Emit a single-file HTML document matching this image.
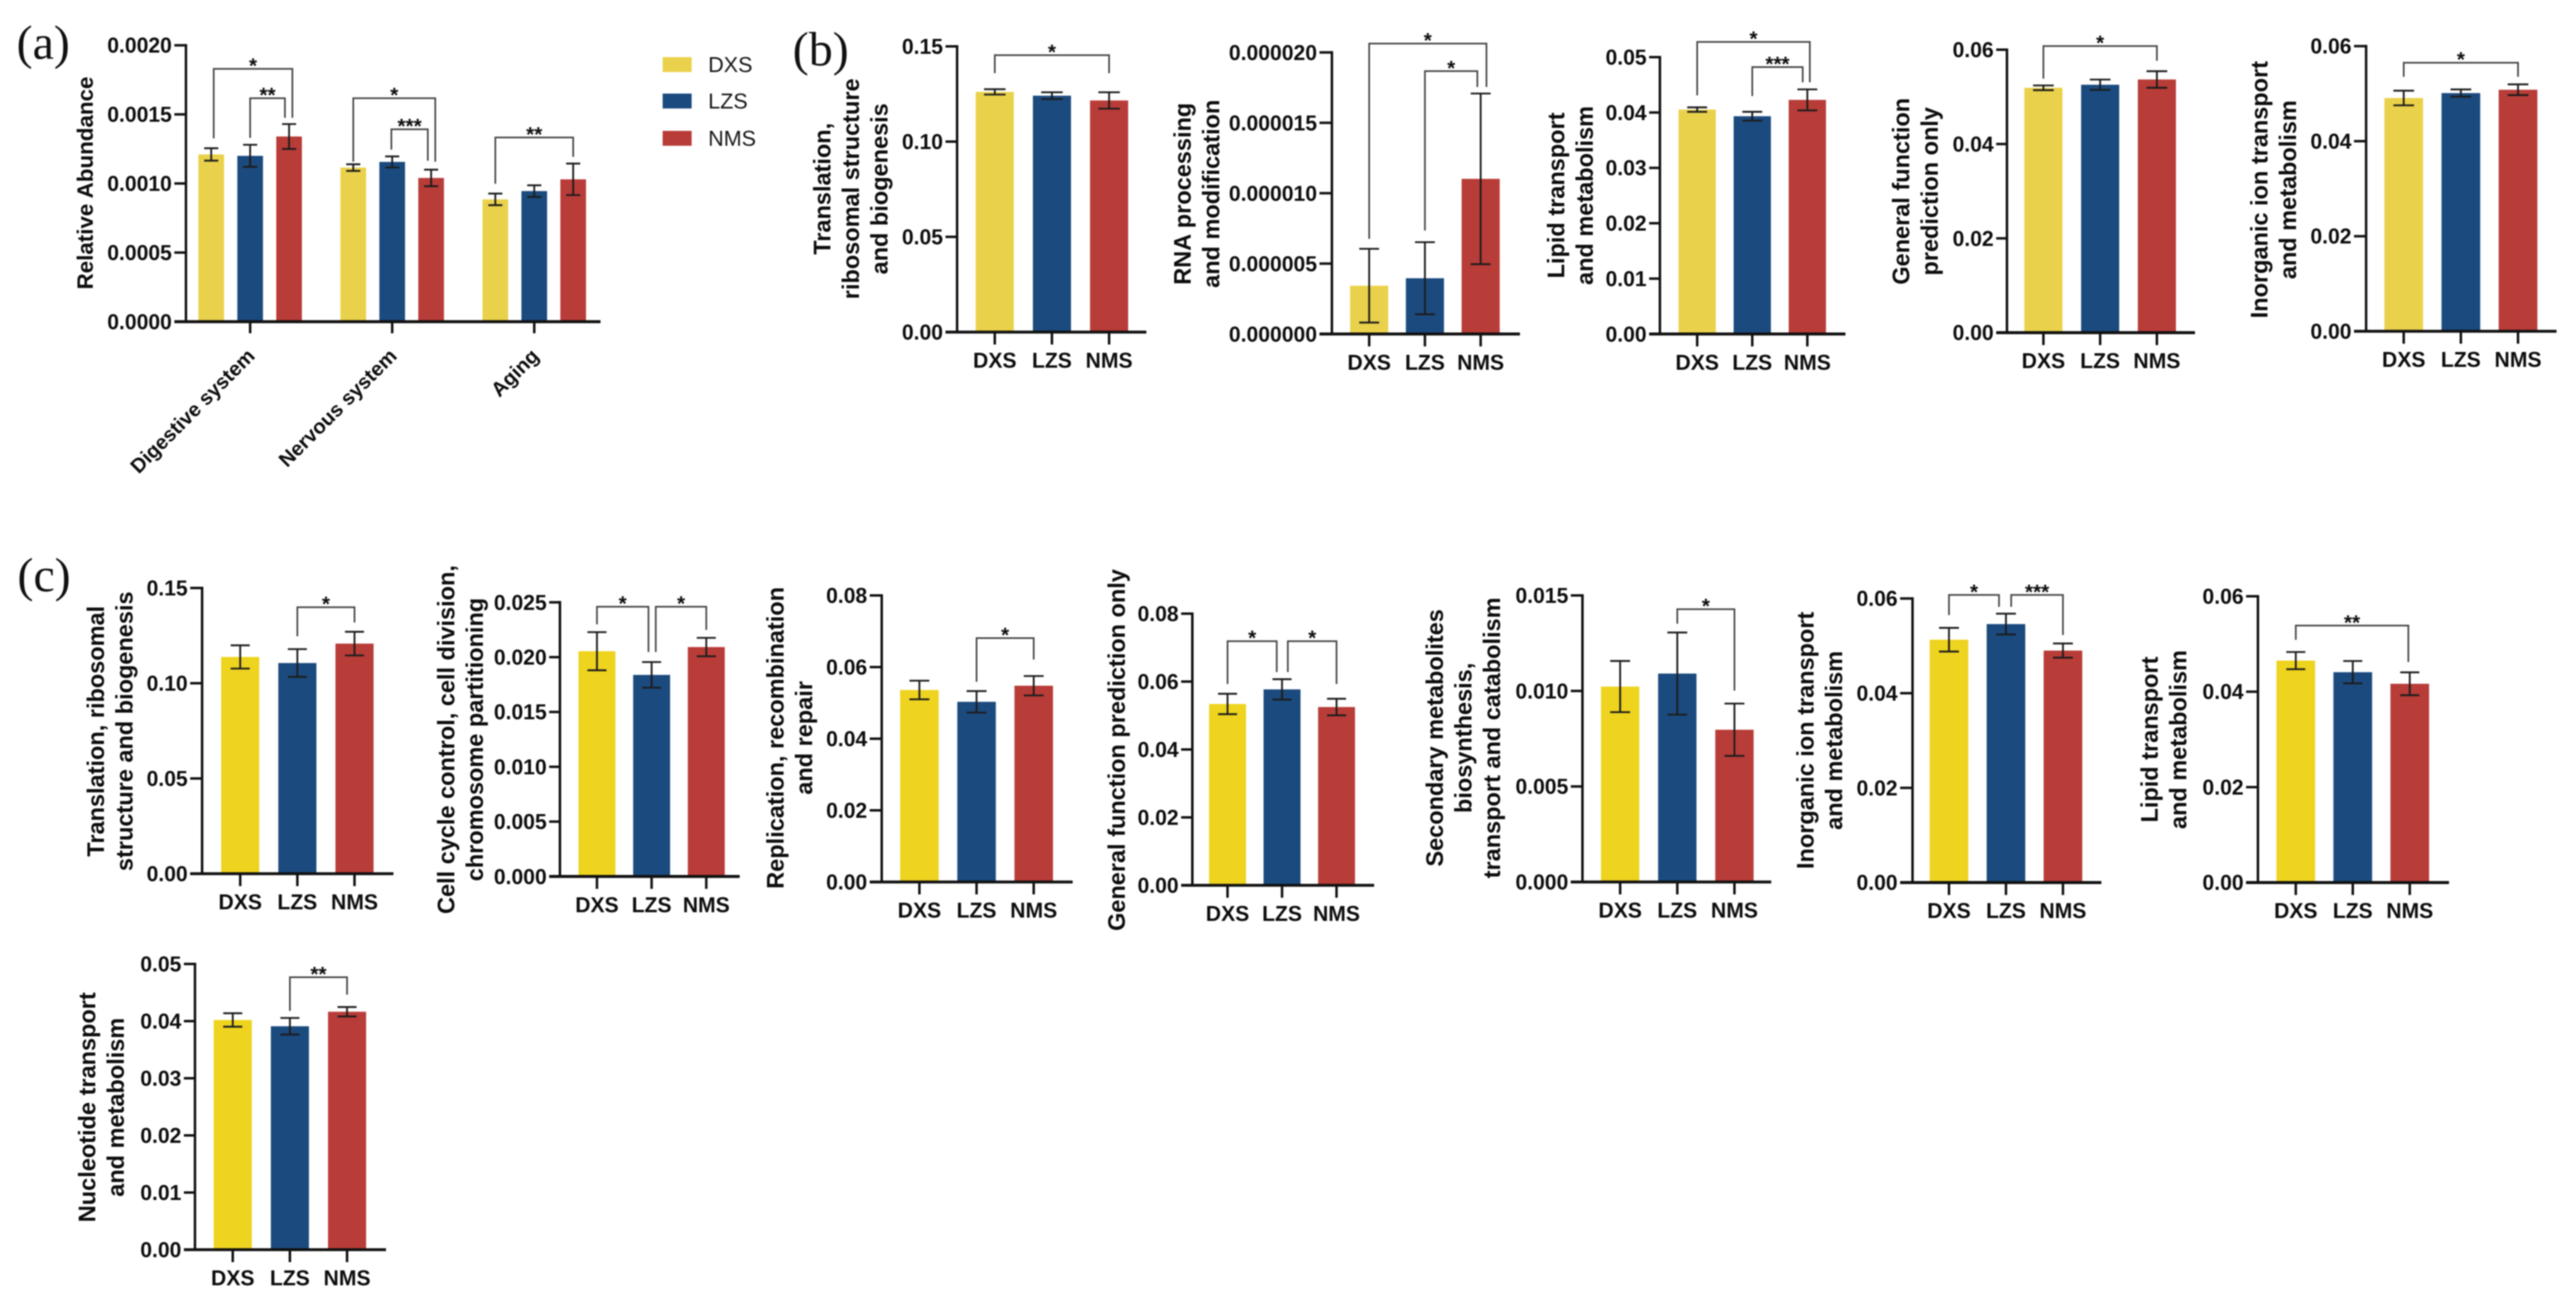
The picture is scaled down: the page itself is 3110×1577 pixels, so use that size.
<!DOCTYPE html>
<html lang="en">
<head>
<meta charset="utf-8">
<title>Relative abundance bar charts</title>
<style>
html,body{margin:0;padding:0;background:#fff;width:3110px;height:1577px;overflow:hidden}
svg{display:block;filter:blur(0.85px)}
text{font-family:"Liberation Sans",Arial,sans-serif;fill:#0d0d0d}
.pl{font-family:"Liberation Serif","Times New Roman",serif;font-size:58px;fill:#111}
.lg{font-size:26px;fill:#161616}
</style>
</head>
<body>
<svg id="fig" xmlns="http://www.w3.org/2000/svg" width="3110" height="1577" viewBox="0 0 3110 1577">
<rect width="3110" height="1577" fill="#fff"/>
<text class="pl" x="20" y="71">(a)</text>
<text class="pl" x="957" y="79">(b)</text>
<text class="pl" x="21" y="714">(c)</text>
<g>
<rect x="800" y="69" width="35" height="18" fill="#EAD14B"/>
<text class="lg" x="855" y="87">DXS</text>
<rect x="800" y="113" width="35" height="18" fill="#1B4A7E"/>
<text class="lg" x="855" y="131">LZS</text>
<rect x="800" y="158" width="35" height="18" fill="#B83C38"/>
<text class="lg" x="855" y="176">NMS</text>
</g>
</svg>
<script>
// ---------- shared categories ----------
const seriesNames = ['DXS', 'LZS', 'NMS'];
const aCategories = ['Digestive system', 'Nervous system', 'Aging'];

// ---------- panel (a) ----------
const aTicks = ['0.0000', '0.0005', '0.0010', '0.0015', '0.0020'];
const aDigestive = [0.00121, 0.00120, 0.00134];
const aNervous = [0.001115, 0.001156, 0.00104];
const aAging = [0.000885, 0.000945, 0.00103];
const aDigestiveErr = [0.000045, 0.00008, 0.00009];
const aNervousErr = [0.000024, 0.00004, 0.00006];
const aAgingErr = [0.000042, 0.000042, 0.000114];
const aSig = [
  [0, 2, 0.00183, 0.001326, 0.001475, '*'],
  [1, 2, 0.001617, 0.00133, 0.001475, '**'],
  [3, 5, 0.001617, 0.001158, 0.001158, '*'],
  [4, 5, 0.001392, 0.001245, 0.001165, '***'],
  [6, 8, 0.001333, 0.000998, 0.001193, '**']
];

// ---------- panel (b) ----------
const b1Ticks = ['0.00', '0.05', '0.10', '0.15'];
const b1Means = [0.1261, 0.1241, 0.1216];
const b1Errs = [0.0014, 0.0018, 0.0043];
const b1Sig = [[0, 2, 0.1454, 0.1359, 0.1359, '*']];

const b2Ticks = ['0.000000', '0.000005', '0.000010', '0.000015', '0.000020'];
const b2Means = [0.00000343, 0.00000396, 0.00001102];
const b2Errs = [0.00000262, 0.00000256, 0.00000606];
const b2Sig = [
  [0, 2, 0.00002063, 0.00000676, 0.00001755, '*'],
  [1, 2, 0.00001867, 0.00000735, 0.00001755, '*']
];

const b3Ticks = ['0.00', '0.01', '0.02', '0.03', '0.04', '0.05'];
const b3Means = [0.04053, 0.03933, 0.04228];
const b3Errs = [0.0004, 0.0008, 0.0019];
const b3Sig = [
  [0, 2, 0.05274, 0.0431, 0.04546, '*'],
  [1, 2, 0.0482, 0.04297, 0.04546, '***']
];

const b4Ticks = ['0.00', '0.02', '0.04', '0.06'];
const b4Means = [0.05192, 0.05257, 0.05368];
const b4Errs = [0.0005, 0.0011, 0.00176];
const b4Sig = [[0, 2, 0.06076, 0.05385, 0.05766, '*']];

const b5Ticks = ['0.00', '0.02', '0.04', '0.06'];
const b5Means = [0.04908, 0.05012, 0.05082];
const b5Errs = [0.00154, 0.00076, 0.00113];
const b5Sig = [[0, 2, 0.05651, 0.05355, 0.05355, '*']];

// ---------- panel (c) ----------
const c1Ticks = ['0.00', '0.05', '0.10', '0.15'];
const c1Means = [0.1138, 0.1106, 0.1208];
const c1Errs = [0.0061, 0.0073, 0.0062];
const c1Sig = [[1, 2, 0.1399, 0.1247, 0.1319, '*']];

const c2Ticks = ['0.000', '0.005', '0.010', '0.015', '0.020', '0.025'];
const c2Means = [0.02054, 0.01838, 0.02092];
const c2Errs = [0.00174, 0.00117, 0.00084];
const c2Sig = [
  [0, 1, 0.0246, 0.02299, 0.02047, '*'],
  [1, 2, 0.0246, 0.02047, 0.02248, '*']
];

const c3Ticks = ['0.00', '0.02', '0.04', '0.06', '0.08'];
const c3Means = [0.0536, 0.0503, 0.0548];
const c3Errs = [0.0026, 0.003, 0.0027];
const c3Sig = [[1, 2, 0.0681, 0.0559, 0.0621, '*']];

const c4Ticks = ['0.00', '0.02', '0.04', '0.06', '0.08'];
const c4Means = [0.0534, 0.0577, 0.0525];
const c4Errs = [0.003, 0.003, 0.00244];
const c4Sig = [
  [0, 1, 0.0719, 0.0593, 0.0628, '*'],
  [1, 2, 0.0719, 0.0628, 0.0593, '*']
];

const c5Ticks = ['0.000', '0.005', '0.010', '0.015'];
const c5Means = [0.01023, 0.01091, 0.00797];
const c5Errs = [0.00134, 0.00215, 0.00137];
const c5Sig = [[1, 2, 0.01428, 0.01352, 0.01002, '*']];

const c6Ticks = ['0.00', '0.02', '0.04', '0.06'];
const c6Means = [0.0513, 0.0546, 0.049];
const c6Errs = [0.0025, 0.0022, 0.0015];
const c6Sig = [
  [0, 1, 0.06076, 0.0565, 0.05825, '*'],
  [1, 2, 0.06076, 0.05825, 0.0523, '***']
];

const c7Ticks = ['0.00', '0.02', '0.04', '0.06'];
const c7Means = [0.04652, 0.04409, 0.04166];
const c7Errs = [0.0018, 0.00234, 0.0024];
const c7Sig = [[0, 2, 0.05387, 0.05086, 0.04623, '**']];

const c8Ticks = ['0.00', '0.01', '0.02', '0.03', '0.04', '0.05'];
const c8Means = [0.0402, 0.0391, 0.04164];
const c8Errs = [0.00118, 0.00145, 0.00082];
const c8Sig = [[1, 2, 0.04768, 0.04179, 0.04464, '**']];

// ---------- panel frames (layout only) ----------
const YB = '#EAD14B', YC = '#EED31F', BLUE = '#1B4A7E', RED = '#B83C38';
const panels = [
  {id:'a', ticks:aTicks, means:[...aDigestive,...aNervous,...aAging], errs:[...aDigestiveErr,...aNervousErr,...aAgingErr], sig:aSig,
   ax:224.5, top:54.7, zero:388.4, left:210.5, right:725, c0:255, step:47, gstep:171.5, bw:31, cap:17, yellow:YB,
   title:['Relative Abundance'], tx:112, tcy:221, tfs:27, cats:aCategories,
   dx:[[3,4],[0,-5],[0,5],[-1,-4],[0,0]]},
  {id:'b1', ticks:b1Ticks, means:b1Means, errs:b1Errs, sig:b1Sig, ax:1155.5, top:56, zero:401, left:1141.5, right:1384, c0:1201, step:69, bw:46, cap:26, yellow:YB,
   title:['Translation,','ribosomal structure','and biogenesis'], tx:1002.5, tcy:228},
  {id:'b2', ticks:b2Ticks, means:b2Means, errs:b2Errs, sig:b2Sig, ax:1608, top:63.3, zero:403.3, left:1593, right:1835, c0:1653, step:67.3, bw:46, cap:24, yellow:YB,
   title:['RNA processing','and modification'], tx:1437.5, tcy:234, dx:[[0,7],[0,-4]]},
  {id:'b3', ticks:b3Ticks, means:b3Means, errs:b3Errs, sig:b3Sig, ax:2004, top:69, zero:403.3, left:1991, right:2228, c0:2049, step:66.5, bw:45, cap:24, yellow:YB,
   title:['Lipid transport','and metabolism'], tx:1888.5, tcy:236, dx:[[0,3],[0,-5.6]]},
  {id:'b4', ticks:b4Ticks, means:b4Means, errs:b4Errs, sig:b4Sig, ax:2423, top:60, zero:401.7, left:2410, right:2650, c0:2467, step:68.5, bw:46, cap:25, yellow:YB,
   title:['General function','prediction only'], tx:2305, tcy:231},
  {id:'b5', ticks:b5Ticks, means:b5Means, errs:b5Errs, sig:b5Sig, ax:2856.6, top:55.7, zero:400, left:2842, right:3086.5, c0:2902, step:69, bw:46.7, cap:25, yellow:YB,
   title:['Inorganic ion transport','and metabolism'], tx:2737.5, tcy:229},
  {id:'c1', ticks:c1Ticks, means:c1Means, errs:c1Errs, sig:c1Sig, ax:244, top:710, zero:1055, left:229.6, right:475, c0:290, step:69, bw:46, cap:23, yellow:YC,
   title:['Translation, ribosomal','structure and biogenesis'], tx:125.5, tcy:883},
  {id:'c2', ticks:c2Ticks, means:c2Means, errs:c2Errs, sig:c2Sig, ax:676, top:727.3, zero:1058.3, left:663, right:893, c0:720.7, step:66, bw:44.6, cap:23, yellow:YC,
   title:['Cell cycle control, cell division,','chromosome partitioning'], tx:548.5, tcy:893, dx:[[0,-3.8],[5,0]]},
  {id:'c3', ticks:c3Ticks, means:c3Means, errs:c3Errs, sig:c3Sig, ax:1064.5, top:719, zero:1065, left:1050, right:1295, c0:1110, step:69, bw:46.5, cap:24, yellow:YC,
   title:['Replication, recombination','and repair'], tx:946, tcy:891},
  {id:'c4', ticks:c4Ticks, means:c4Means, errs:c4Errs, sig:c4Sig, ax:1439.5, top:741, zero:1069, left:1426, right:1659, c0:1482, step:65.8, bw:44.6, cap:23, yellow:YC,
   title:['General function prediction only'], tx:1358, tcy:905.7, dx:[[0,-6.4],[7,0]]},
  {id:'c5', ticks:c5Ticks, means:c5Means, errs:c5Errs, sig:c5Sig, ax:1910.5, top:719, zero:1065, left:1896.4, right:2138.4, c0:1956, step:69, bw:46.3, cap:24, yellow:YC,
   title:['Secondary metabolites','biosynthesis,','transport and catabolism'], tx:1742, tcy:891},
  {id:'c6', ticks:c6Ticks, means:c6Means, errs:c6Errs, sig:c6Sig, ax:2309, top:722.7, zero:1065.7, left:2294, right:2537, c0:2353, step:68.8, bw:46.6, cap:24, yellow:YC,
   title:['Inorganic ion transport','and metabolism'], tx:2189.5, tcy:894, dx:[[0,-8.4],[6.3,0]]},
  {id:'c7', ticks:c7Ticks, means:c7Means, errs:c7Errs, sig:c7Sig, ax:2726, top:720, zero:1065.7, left:2711.7, right:2956.7, c0:2771.7, step:68.8, bw:46.7, cap:23, yellow:YC,
   title:['Lipid transport','and metabolism'], tx:2605, tcy:893, dx:[[0,-1.7]]},
  {id:'c8', ticks:c8Ticks, means:c8Means, errs:c8Errs, sig:c8Sig, ax:235.4, top:1164, zero:1509, left:222, right:466, c0:281, step:69, bw:46, cap:23, yellow:YC,
   title:['Nucleotide transport','and metabolism'], tx:114.8, tcy:1337}
];

const NS = 'http://www.w3.org/2000/svg';
const fig = document.getElementById('fig');
function mk(parent, tag, attrs, txt) {
  const n = document.createElementNS(NS, tag);
  for (const k in attrs) n.setAttribute(k, attrs[k]);
  if (txt !== undefined) n.textContent = txt;
  parent.appendChild(n);
  return n;
}

panels.forEach(function (p) {
  const ymax = Number(p.ticks[p.ticks.length - 1]);
  const y = function (v) { return p.zero - (v / ymax) * (p.zero - p.top); };
  const x = function (i) { return p.c0 + Math.floor(i / 3) * (p.gstep || 0) + (i % 3) * p.step; };
  const g = mk(fig, 'g', {});
  
  

  // bars
  p.means.forEach(function (m, i) {
    const s = i % 3;
    const fill = [p.yellow, BLUE, RED][s];
    const bar = mk(g, 'rect', {x: x(i) - p.bw / 2, y: y(m), width: p.bw, height: p.zero - y(m), fill: fill});
    
    
  });

  // axes
  const yAxis = mk(g, 'line', {x1: p.ax, x2: p.ax, y1: p.top - 1.5, y2: p.zero, stroke: '#111', 'stroke-width': 3});
  
  
  const xAxis = mk(g, 'line', {x1: p.left, x2: p.right, y1: p.zero, y2: p.zero, stroke: '#111', 'stroke-width': 3.6});
  
  

  // y ticks and labels
  p.ticks.forEach(function (t) {
    const ty = y(Number(t));
    const tick = mk(g, 'line', {x1: p.left, x2: p.ax, y1: ty, y2: ty, stroke: '#111', 'stroke-width': 3});
    
    
    const lab = mk(g, 'text', {x: p.left - 3, y: ty + 9, 'text-anchor': 'end', 'font-size': 25.5, 'font-weight': 'bold'}, t);
    
    
  });

  // x ticks and labels
  if (p.cats) {
    p.cats.forEach(function (c, k) {
      const tx = x(k * 3 + 1);
      const tick = mk(g, 'line', {x1: tx, x2: tx, y1: p.zero, y2: p.zero + 14, stroke: '#111', 'stroke-width': 3});
      
      
      const ax = tx + 7, ay = p.zero + 43;
      const lab = mk(g, 'text', {x: ax, y: ay, 'text-anchor': 'end', 'font-size': 24.5, 'font-weight': 'bold', transform: 'rotate(-45 ' + ax + ' ' + ay + ')'}, c);
      
      
    });
  } else {
    seriesNames.forEach(function (c, k) {
      const tx = x(k);
      const tick = mk(g, 'line', {x1: tx, x2: tx, y1: p.zero, y2: p.zero + 15, stroke: '#111', 'stroke-width': 3});
      
      
      const lab = mk(g, 'text', {x: tx, y: p.zero + 43, 'text-anchor': 'middle', 'font-size': 25.5, 'font-weight': 'bold'}, c);
      
      
    });
  }

  // y-axis title
  const fs = p.tfs || 28.4;
  p.title.forEach(function (line, k) {
    const bx = p.tx + k * 34.5;
    const t = mk(g, 'text', {x: bx, y: p.tcy, 'text-anchor': 'middle', 'font-size': fs, 'font-weight': 'bold', transform: 'rotate(-90 ' + bx + ' ' + p.tcy + ')'}, line);
    
    
  });

  // error bars
  p.means.forEach(function (m, i) {
    const e = p.errs[i], cx = x(i), hi = y(m + e), lo = y(m - e);
    const eb = mk(g, 'path', {d: 'M' + (cx - p.cap / 2) + ' ' + hi + 'H' + (cx + p.cap / 2) + 'M' + cx + ' ' + hi + 'V' + lo + 'M' + (cx - p.cap / 2) + ' ' + lo + 'H' + (cx + p.cap / 2), fill: 'none', stroke: '#1c1c1c', 'stroke-width': 2.2});
    
    
  });

  // significance brackets
  p.sig.forEach(function (b, k) {
    const off = (p.dx && p.dx[k]) || [0, 0];
    const x1 = x(b[0]) + off[0], x2 = x(b[1]) + off[1], ty = y(b[2]);
    const br = mk(g, 'path', {d: 'M' + x1 + ' ' + y(b[3]) + 'V' + ty + 'H' + x2 + 'V' + y(b[4]), fill: 'none', stroke: '#444', 'stroke-width': 2});
    
    
    const st = mk(g, 'text', {x: (x1 + x2) / 2, y: ty + 5, 'text-anchor': 'middle', 'font-size': 25, 'font-weight': 'bold', fill: '#222'}, b[5]);
    
    
  });
});
</script>
</body>
</html>
